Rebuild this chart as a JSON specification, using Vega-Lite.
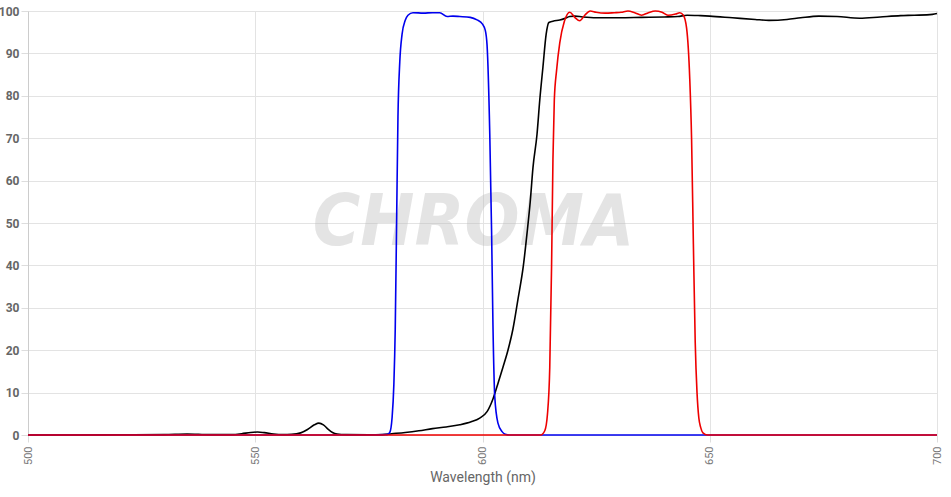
{
  "$schema": "https://vega.github.io/schema/vega-lite/v6.json",
  "width": 909,
  "height": 424,
  "autosize": {"type": "none"},
  "padding": {"left": 28, "top": 11, "right": 14, "bottom": 62},
  "background": "white",
  "config": {"view": {"stroke": null}},
  "datasets": {
    "curves": [
      {"s": "black", "wl": 500, "t": 0}, {"s": "black", "wl": 510, "t": 0}, {"s": "black", "wl": 520, "t": 0.05}, {"s": "black", "wl": 530, "t": 0.1}, {"s": "black", "wl": 535, "t": 0.25}, {"s": "black", "wl": 540, "t": 0.1}, {"s": "black", "wl": 545, "t": 0.1}, {"s": "black", "wl": 547, "t": 0.3}, {"s": "black", "wl": 549, "t": 0.6}, {"s": "black", "wl": 550.5, "t": 0.7}, {"s": "black", "wl": 552, "t": 0.55}, {"s": "black", "wl": 554, "t": 0.25}, {"s": "black", "wl": 556, "t": 0.1}, {"s": "black", "wl": 558, "t": 0.15}, {"s": "black", "wl": 560, "t": 0.5}, {"s": "black", "wl": 561.5, "t": 1.3}, {"s": "black", "wl": 563, "t": 2.4}, {"s": "black", "wl": 564, "t": 2.8}, {"s": "black", "wl": 565, "t": 2.4}, {"s": "black", "wl": 566, "t": 1.4}, {"s": "black", "wl": 567, "t": 0.6}, {"s": "black", "wl": 568, "t": 0.25}, {"s": "black", "wl": 570, "t": 0.1}, {"s": "black", "wl": 575, "t": 0.05}, {"s": "black", "wl": 578, "t": 0.1}, {"s": "black", "wl": 580, "t": 0.3}, {"s": "black", "wl": 583, "t": 0.6}, {"s": "black", "wl": 586, "t": 1.0}, {"s": "black", "wl": 589, "t": 1.5}, {"s": "black", "wl": 592, "t": 1.9}, {"s": "black", "wl": 595, "t": 2.4}, {"s": "black", "wl": 597.5, "t": 3.1}, {"s": "black", "wl": 599.4, "t": 4.0}, {"s": "black", "wl": 601, "t": 5.5}, {"s": "black", "wl": 602.3, "t": 8.5}, {"s": "black", "wl": 603.5, "t": 12.5}, {"s": "black", "wl": 604.5, "t": 16}, {"s": "black", "wl": 605.6, "t": 20}, {"s": "black", "wl": 606.7, "t": 25}, {"s": "black", "wl": 607.8, "t": 32}, {"s": "black", "wl": 609, "t": 40}, {"s": "black", "wl": 609.8, "t": 47.6}, {"s": "black", "wl": 610.5, "t": 55}, {"s": "black", "wl": 611.1, "t": 63}, {"s": "black", "wl": 612, "t": 71}, {"s": "black", "wl": 612.6, "t": 79}, {"s": "black", "wl": 613.3, "t": 86.8}, {"s": "black", "wl": 614, "t": 94.5}, {"s": "black", "wl": 614.6, "t": 97.3}, {"s": "black", "wl": 615.5, "t": 97.6}, {"s": "black", "wl": 617, "t": 97.9}, {"s": "black", "wl": 618, "t": 98.2}, {"s": "black", "wl": 619.2, "t": 98.7}, {"s": "black", "wl": 620.3, "t": 98.8}, {"s": "black", "wl": 622, "t": 98.6}, {"s": "black", "wl": 625, "t": 98.4}, {"s": "black", "wl": 630, "t": 98.4}, {"s": "black", "wl": 635, "t": 98.5}, {"s": "black", "wl": 640, "t": 98.6}, {"s": "black", "wl": 643, "t": 98.7}, {"s": "black", "wl": 645, "t": 99}, {"s": "black", "wl": 648, "t": 98.9}, {"s": "black", "wl": 650, "t": 98.8}, {"s": "black", "wl": 655, "t": 98.4}, {"s": "black", "wl": 660, "t": 98}, {"s": "black", "wl": 663, "t": 97.8}, {"s": "black", "wl": 667, "t": 98}, {"s": "black", "wl": 670, "t": 98.4}, {"s": "black", "wl": 674, "t": 98.8}, {"s": "black", "wl": 678, "t": 98.7}, {"s": "black", "wl": 683, "t": 98.3}, {"s": "black", "wl": 687.5, "t": 98.6}, {"s": "black", "wl": 692, "t": 98.9}, {"s": "black", "wl": 695, "t": 99}, {"s": "black", "wl": 699, "t": 99.2}, {"s": "black", "wl": 700, "t": 99.4},
      {"s": "blue", "wl": 500, "t": 0}, {"s": "blue", "wl": 540, "t": 0}, {"s": "blue", "wl": 575, "t": 0}, {"s": "blue", "wl": 579, "t": 0.1}, {"s": "blue", "wl": 579.6, "t": 0.6}, {"s": "blue", "wl": 580.1, "t": 4}, {"s": "blue", "wl": 580.5, "t": 12}, {"s": "blue", "wl": 580.8, "t": 25}, {"s": "blue", "wl": 581.1, "t": 50}, {"s": "blue", "wl": 581.4, "t": 75}, {"s": "blue", "wl": 581.8, "t": 88}, {"s": "blue", "wl": 582.3, "t": 94.5}, {"s": "blue", "wl": 583, "t": 97.8}, {"s": "blue", "wl": 583.6, "t": 99}, {"s": "blue", "wl": 584.7, "t": 99.6}, {"s": "blue", "wl": 587, "t": 99.5}, {"s": "blue", "wl": 589, "t": 99.6}, {"s": "blue", "wl": 590.6, "t": 99.6}, {"s": "blue", "wl": 592.2, "t": 98.7}, {"s": "blue", "wl": 593.5, "t": 98.8}, {"s": "blue", "wl": 595, "t": 98.7}, {"s": "blue", "wl": 597.3, "t": 98.5}, {"s": "blue", "wl": 598.8, "t": 97.9}, {"s": "blue", "wl": 600, "t": 96.9}, {"s": "blue", "wl": 600.6, "t": 95.5}, {"s": "blue", "wl": 601, "t": 92}, {"s": "blue", "wl": 601.6, "t": 71}, {"s": "blue", "wl": 602, "t": 48}, {"s": "blue", "wl": 602.3, "t": 26}, {"s": "blue", "wl": 602.7, "t": 9}, {"s": "blue", "wl": 603.4, "t": 2.8}, {"s": "blue", "wl": 604.3, "t": 0.8}, {"s": "blue", "wl": 605, "t": 0.2}, {"s": "blue", "wl": 606, "t": 0}, {"s": "blue", "wl": 650, "t": 0}, {"s": "blue", "wl": 700, "t": 0},
      {"s": "red", "wl": 500, "t": 0}, {"s": "red", "wl": 600, "t": 0}, {"s": "red", "wl": 612.8, "t": 0}, {"s": "red", "wl": 613.7, "t": 1}, {"s": "red", "wl": 614.3, "t": 5}, {"s": "red", "wl": 614.8, "t": 16}, {"s": "red", "wl": 615.2, "t": 40}, {"s": "red", "wl": 615.5, "t": 65}, {"s": "red", "wl": 615.8, "t": 79}, {"s": "red", "wl": 616.3, "t": 86}, {"s": "red", "wl": 617, "t": 92.5}, {"s": "red", "wl": 618, "t": 97.5}, {"s": "red", "wl": 619.2, "t": 99.7}, {"s": "red", "wl": 620.3, "t": 98.5}, {"s": "red", "wl": 621.4, "t": 97.7}, {"s": "red", "wl": 622.5, "t": 99}, {"s": "red", "wl": 623.7, "t": 100}, {"s": "red", "wl": 625, "t": 99.7}, {"s": "red", "wl": 627, "t": 99.5}, {"s": "red", "wl": 629, "t": 99.6}, {"s": "red", "wl": 630.5, "t": 99.7}, {"s": "red", "wl": 632, "t": 100}, {"s": "red", "wl": 633.5, "t": 99.6}, {"s": "red", "wl": 635, "t": 99}, {"s": "red", "wl": 636.5, "t": 99.6}, {"s": "red", "wl": 638, "t": 100}, {"s": "red", "wl": 639.5, "t": 99.7}, {"s": "red", "wl": 640.8, "t": 99}, {"s": "red", "wl": 642.5, "t": 99.3}, {"s": "red", "wl": 643.4, "t": 99.6}, {"s": "red", "wl": 644.2, "t": 99}, {"s": "red", "wl": 644.9, "t": 96}, {"s": "red", "wl": 645.6, "t": 84}, {"s": "red", "wl": 646, "t": 70}, {"s": "red", "wl": 646.4, "t": 45}, {"s": "red", "wl": 646.8, "t": 22}, {"s": "red", "wl": 647.2, "t": 10}, {"s": "red", "wl": 647.6, "t": 4}, {"s": "red", "wl": 648, "t": 1.8}, {"s": "red", "wl": 648.5, "t": 0.5}, {"s": "red", "wl": 649.5, "t": 0}, {"s": "red", "wl": 700, "t": 0}
    ],
    "logo": [{"wl": 598, "t": 50, "label": "CHROMA"}]
  },
  "layer": [
    {
      "data": {"name": "logo"},
      "mark": {"type": "text", "font": "DejaVu Sans Condensed, Liberation Sans, sans-serif", "fontStyle": "italic", "fontWeight": "bold", "fontSize": 72, "color": "#bdbdbd", "opacity": 0.4, "baseline": "middle", "align": "center"},
      "encoding": {
        "x": {"field": "wl", "type": "quantitative", "scale": {"domain": [500, 700]}},
        "y": {"field": "t", "type": "quantitative", "scale": {"domain": [0, 100]}},
        "text": {"field": "label"}
      }
    },
    {
      "data": {"name": "curves"},
      "mark": {"type": "line", "strokeWidth": 1.6, "interpolate": "monotone"},
      "encoding": {
        "x": {
          "field": "wl", "type": "quantitative",
          "scale": {"domain": [500, 700], "nice": false, "zero": false},
          "axis": {
            "values": [500, 550, 600, 650, 700],
            "labelAngle": 270, "labelFont": "Roboto", "labelFontSize": 11, "labelColor": "#777",
            "labelPadding": 4, "tickSize": 7, "tickColor": "#dddddd",
            "grid": true, "gridColor": "#e3e3e3", "domainColor": "#dddddd",
            "title": "Wavelength (nm)", "titleFont": "Roboto", "titleFontSize": 14, "titleFontWeight": "normal", "titleColor": "#666", "titlePadding": 6
          }
        },
        "y": {
          "field": "t", "type": "quantitative",
          "scale": {"domain": [0, 100], "nice": false},
          "axis": {
            "values": [0, 10, 20, 30, 40, 50, 60, 70, 80, 90, 100],
            "labelFont": "Roboto", "labelFontSize": 12, "labelFontWeight": "bold", "labelColor": "#666",
            "labelPadding": 2, "tickSize": 7, "tickColor": "#dddddd",
            "grid": true, "gridColor": "#e3e3e3", "domainColor": "#cccccc",
            "title": null
          }
        },
        "color": {
          "field": "s", "type": "nominal",
          "scale": {"domain": ["black", "red", "blue"], "range": ["#000000", "#ee0000", "#0000ee"]},
          "legend": null
        }
      }
    }
  ]
}
